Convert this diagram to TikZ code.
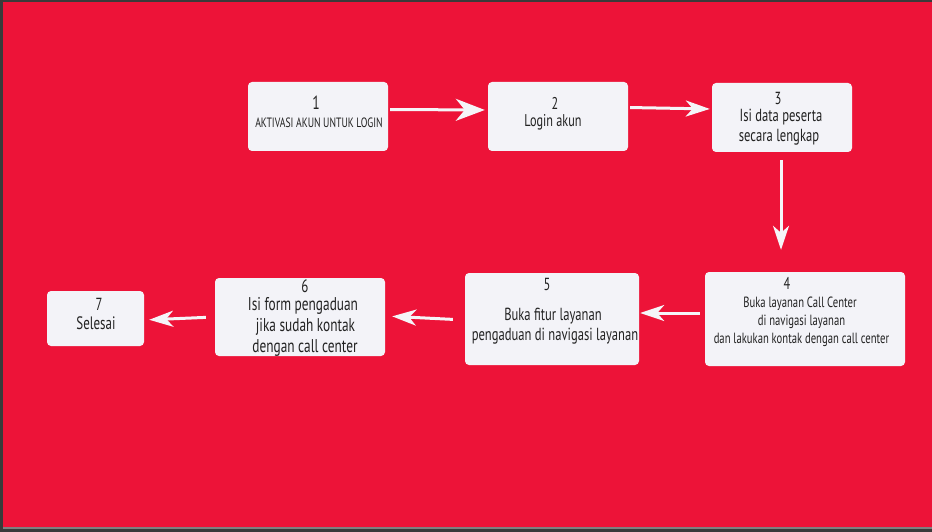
\documentclass[tikz,border=0pt]{standalone}
\usepackage{fontspec}
\setmainfont[FakeStretch=0.72]{PT Sans}
\usetikzlibrary{arrows.meta}
\definecolor{bgred}{RGB}{237,19,56}
\definecolor{boxfill}{RGB}{243,243,248}
\definecolor{arrw}{RGB}{245,245,248}
\definecolor{framegray}{RGB}{58,58,58}
\definecolor{txtcol}{RGB}{34,34,34}
\begin{document}
\begin{tikzpicture}[x=1pt,y=-1pt,
  box/.style={draw=none, fill=boxfill, rounded corners=4pt, inner sep=0pt},
  lbl/.style={anchor=base, inner sep=0pt, text=txtcol, font=\fontsize{#1}{#1}\selectfont},
  arr/.style={draw=arrw, line width=3pt, -{Stealth[length=24pt,width=16pt,inset=7pt]}},
  bigarr/.style={draw=arrw, line width=3pt, -{Stealth[length=29pt,width=22pt,inset=9pt]}}]
\useasboundingbox (0,0) rectangle (932,532);
\fill[framegray] (0,0) rectangle (932,532);
\fill[bgred] (3,2) rectangle (932,527);
\fill[gray] (3,527) rectangle (932,528.5);

% boxes
\node[box, minimum width=140pt, minimum height=69pt] (b1) at (318,116.5) {};
\node[box, minimum width=140pt, minimum height=69pt] (b2) at (558,116.5) {};
\node[box, minimum width=140pt, minimum height=69pt] (b3) at (782,117.5) {};
\node[box, minimum width=200pt, minimum height=94pt] (b4) at (805,319) {};
\node[box, minimum width=174pt, minimum height=92pt] (b5) at (552,319) {};
\node[box, minimum width=170pt, minimum height=78pt] (b6) at (300,317) {};
\node[box, minimum width=97pt, minimum height=55pt] (b7) at (95.5,318.5) {};

% texts
\node[lbl=19] (t1n) at (316,109.5) {1};
\node[lbl=13.5] (t1a) at (319,128) {AKTIVASI AKUN UNTUK LOGIN};
\node[lbl=17] (t2n) at (555,109.5) {2};
\node[lbl=17] (t2a) at (553,127) {Login akun};
\node[lbl=17.5] (t3n) at (778,104.5) {3};
\node[lbl=17.5] (t3a) at (781,122) {Isi data peserta};
\node[lbl=17.5] (t3b) at (779,142) {secara lengkap};
\node[lbl=17] (t4n) at (787,289) {4};
\node[lbl=14.8] (t4a) at (800,307.5) {Buka layanan Call Center};
\node[lbl=14.8] (t4b) at (801.5,325) {di navigasi layanan};
\node[lbl=14.8] (t4c) at (801.5,343) {dan lakukan kontak dengan call center};
\node[lbl=17.5] (t5n) at (547,290) {5};
\node[lbl=17.5] (t5a) at (553,320) {Buka fitur layanan};
\node[lbl=17.5] (t5b) at (555,340) {pengaduan di navigasi layanan};
\node[lbl=18] (t6n) at (305,292.5) {6};
\node[lbl=18.5] (t6a) at (303,310) {Isi form pengaduan};
\node[lbl=18.5] (t6b) at (305.5,331) {jika sudah kontak};
\node[lbl=18.5] (t6c) at (305,352) {dengan call center};
\node[lbl=17.5] (t7n) at (99,310) {7};
\node[lbl=18] (t7a) at (96,329) {Selesai};

% arrows
\draw[bigarr, shorten <=2pt, shorten >=3pt] ([yshift=7pt]b1.east) -- ([yshift=6.5pt]b2.west);
\draw[arr, shorten <=2pt, shorten >=2pt] ([yshift=9pt]b2.east) -- ([yshift=8.5pt]b3.west);
\draw[arr, shorten <=8pt, shorten >=22pt] ([xshift=-1pt]b3.south) -- ([xshift=-24pt]b4.north);
\draw[arr, shorten <=5pt, shorten >=1pt] ([yshift=6pt]b4.west) -- ([yshift=6pt]b5.east);
\draw[arr, shorten <=12pt, shorten >=7pt] ([yshift=-1pt]b5.west) -- ([yshift=1pt]b6.east);
\draw[arr, shorten <=9pt, shorten >=5pt] (b6.west) -- ([yshift=-1.5pt]b7.east);
\end{tikzpicture}
\end{document}
